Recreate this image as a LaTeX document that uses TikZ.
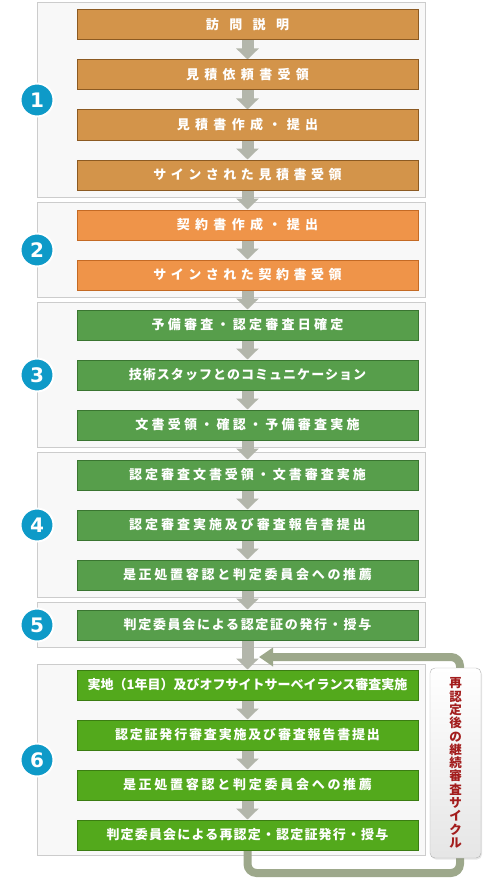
\documentclass[tikz,border=0pt]{standalone}
\usepackage{fontspec}
\setmainfont{Noto Sans CJK JP}
\newfontfamily\numfont{DejaVu Sans}
\usetikzlibrary{
  arrows.meta,
  positioning,
  fit,
  calc,
  shadows,
  backgrounds
}
\definecolor{isQuote}{HTML}{D3944A}
\definecolor{isQuoteLine}{HTML}{8C5A22}
\definecolor{isContract}{HTML}{EF9449}
\definecolor{isContractLine}{HTML}{C46A24}
\definecolor{isAudit}{HTML}{579E4B}
\definecolor{isAuditLine}{HTML}{3A7531}
\definecolor{isRenew}{HTML}{53A91C}
\definecolor{isRenewLine}{HTML}{3B7D12}
\definecolor{isNum}{HTML}{0E9AC8}
\definecolor{isPanel}{HTML}{F8F8F8}
\definecolor{isPanelLine}{HTML}{CCCCCC}
\definecolor{isArrow}{HTML}{B3B6AB}
\definecolor{isLoop}{HTML}{9DA88B}
\definecolor{isCycle}{HTML}{A31D1D}
\tikzset{
  stepbox/.style={
    draw, line width=1pt, minimum width=341pt, minimum height=30pt,
    inner sep=0pt, text=white, font=\fontsize{13}{15}\selectfont\bfseries
  },
  lsp/.style={font=\fontsize{13}{15}\selectfont\bfseries\addfontfeature{LetterSpace=#1}},
  quote/.style={stepbox, fill=isQuote, draw=isQuoteLine},
  contract/.style={stepbox, fill=isContract, draw=isContractLine},
  audit/.style={stepbox, fill=isAudit, draw=isAuditLine},
  renew/.style={stepbox, fill=isRenew, draw=isRenewLine},
  panel/.style={draw=isPanelLine, fill=isPanel, line width=1pt, inner sep=0pt},
  stepnum/.style={
    circle, fill=isNum, draw=white, line width=2pt, minimum size=33pt,
    inner sep=0pt, text=white, font=\numfont\bfseries\fontsize{20}{20}\selectfont
  },
  flow/.style={line width=12pt, draw=isArrow, -{Triangle[width=22pt,length=11pt]}},
  loopline/.style={line width=8pt, draw=isLoop, rounded corners=9pt,
    -{Triangle[width=18pt,length=14pt]}},
  cyclebox/.style={
    draw=black!30, rounded corners=5pt, top color=white, bottom color=black!10,
    minimum width=51pt, minimum height=190pt, align=center, text=isCycle,
    font=\fontsize{12.5}{13.3}\selectfont\bfseries,
    drop shadow={opacity=0.2, shadow xshift=1pt, shadow yshift=-1.5pt}
  }
}

\begin{document}
\begin{tikzpicture}[x=1pt, y=1pt, node distance=19pt]
  \useasboundingbox (0,0) rectangle (500,-880);

  % 1: quotation
  \node[quote, lsp=80] (a1) at (247.5,-25) {訪問説明};
  \node[quote, lsp=41, below=of a1] (a2) {見積依頼書受領};
  \node[quote, lsp=41, below=of a2] (a3) {見積書作成・提出};
  \node[quote, lsp=35, below=of a3] (a4) {サインされた見積書受領};
  % 2: contract
  \node[contract, lsp=41, below=of a4] (a5) {契約書作成・提出};
  \node[contract, lsp=35, below=of a5] (a6) {サインされた契約書受領};
  % 3: preliminary audit
  \node[audit, lsp=25, below=of a6] (a7) {予備審査・認定審査日確定};
  \node[audit, lsp=8, below=of a7] (a8) {技術スタッフとのコミュニケーション};
  \node[audit, lsp=25, below=of a8] (a9) {文書受領・確認・予備審査実施};
  % 4: certification audit
  \node[audit, lsp=23, below=of a9] (a10) {認定審査文書受領・文書審査実施};
  \node[audit, lsp=23, below=of a10] (a11) {認定審査実施及び審査報告書提出};
  \node[audit, lsp=21, below=of a11] (a12) {是正処置容認と判定委員会への推薦};
  % 5: issue
  \node[audit, lsp=13, below=of a12] (a13) {判定委員会による認定証の発行・授与};
  % 6: renewal cycle
  \node[renew, lsp=0, below=29pt of a13] (a14) {実地（1年目）及びオフサイトサーベイランス審査実施};
  \node[renew, lsp=14, below=of a14] (a15) {認定証発行審査実施及び審査報告書提出};
  \node[renew, lsp=21, below=of a15] (a16) {是正処置容認と判定委員会への推薦};
  \node[renew, lsp=9, below=of a16] (a17) {判定委員会による再認定・認定証発行・授与};

  \begin{scope}[on background layer]
    \node[panel, fit={($(a1.north west)+(-39,7)$) ($(a4.south east)+(7,-7)$)}] (p1) {};
    \node[panel, fit={($(a5.north west)+(-39,7)$) ($(a6.south east)+(7,-7)$)}] (p2) {};
    \node[panel, fit={($(a7.north west)+(-39,7)$) ($(a9.south east)+(7,-7)$)}] (p3) {};
    \node[panel, fit={($(a10.north west)+(-39,7)$) ($(a12.south east)+(7,-7)$)}] (p4) {};
    \node[panel, fit={($(a13.north west)+(-39,7)$) ($(a13.south east)+(7,-7)$)}] (p5) {};
    \node[panel, fit={($(a14.north west)+(-39,5)$) ($(a17.south east)+(7,-5)$)}] (p6) {};

    \foreach \i [evaluate=\i as \j using int(\i+1)] in {1,...,16}
      \draw[flow] (a\i) -- (a\j);

    \coordinate (loopbr) at (460,-873);
    \coordinate (looptr) at (460,-657);
    \coordinate (back) at (259,-657);
    \draw[loopline] (a17.south) |- (loopbr) -- (looptr) -- (back);
  \end{scope}

  \node[stepnum] (n1) at (p1.west) {1};
  \node[stepnum] (n2) at (p2.west) {2};
  \node[stepnum] (n3) at (p3.west) {3};
  \node[stepnum] (n4) at (p4.west) {4};
  \node[stepnum] (n5) at (p5.west) {5};
  \node[stepnum] (n6) at (p6.west) {6};

  \node[cyclebox] (cycle) at (455.5,-763)
    {再\\認\\定\\後\\の\\継\\続\\審\\査\\サ\\イ\\ク\\ル};
\end{tikzpicture}
\end{document}
